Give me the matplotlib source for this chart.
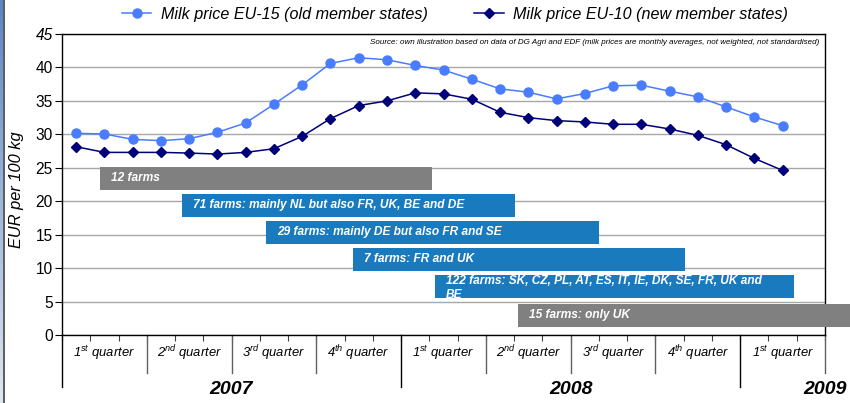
import numpy as np
import matplotlib
matplotlib.use('Agg')
import matplotlib.pyplot as plt
from matplotlib.lines import Line2D
from matplotlib.colors import LinearSegmentedColormap

plt.rcParams['font.family'] = ['Liberation Sans', 'DejaVu Sans']
plt.rcParams['mathtext.fontset'] = 'custom'
plt.rcParams['mathtext.rm'] = 'Liberation Sans'
plt.rcParams['mathtext.it'] = 'Liberation Sans:italic'
plt.rcParams['mathtext.bf'] = 'Liberation Sans:bold'

# --- DATA ---
# monthly milk prices, Jan 2007 .. Feb 2009 (EUR per 100 kg)
MONTHS = np.arange(26)
EU15_PRICE = [30.15, 30.05, 29.25, 29.05, 29.35, 30.3, 31.7, 34.5, 37.4, 40.6, 41.45, 41.15, 40.3,
              39.6, 38.25, 36.8, 36.3, 35.3, 36.1, 37.25, 37.35, 36.45, 35.6, 34.1, 32.6, 31.3]
EU10_PRICE = [28.15, 27.3, 27.3, 27.3, 27.2, 27.05, 27.3, 27.85, 29.7, 32.35, 34.3, 35.0, 36.2,
              36.05, 35.25, 33.3, 32.5, 32.05, 31.85, 31.5, 31.5, 30.8, 29.85, 28.45, 26.4, 24.6]
SERIES_LABELS = ['Milk price EU-15 (old member states)', 'Milk price EU-10 (new member states)']

QUARTER_LABELS = ['1$^{st}$ quarter', '2$^{nd}$ quarter', '3$^{rd}$ quarter', '4$^{th}$ quarter',
                  '1$^{st}$ quarter', '2$^{nd}$ quarter', '3$^{rd}$ quarter', '4$^{th}$ quarter',
                  '1$^{st}$ quarter']
YEARS = ['2007', '2008', '2009']

# farm groups and the period (in months from Jan 2007) each one covers
FARM_GROUPS = ['12 farms',
               '71 farms: mainly NL but also FR, UK, BE and DE',
               '29 farms: mainly DE but also FR and SE',
               '7 farms: FR and UK',
               '122 farms: SK, CZ, PL, AT, ES, IT, IE, DK, SE, FR, UK and\nBE',
               '15 farms: only UK']
GROUP_START = [0.84, 3.74, 6.71, 9.79, 12.69, 15.62]
GROUP_END = [12.61, 15.52, 18.49, 21.56, 25.42, 28.0]

SOURCE = ('Source: own illustration based on data of DG Agri and EDF '
          '(milk prices are monthly averages, not weighted, not standardised)')

# --- STYLE ---
C_EU15 = '#4a7cff'
C_EU10 = '#00007a'
C_GREY = '#808080'
C_BLUE = '#1a7abe'
lanes = [23.43, 19.39, 15.35, 11.32, 7.28, 2.94]
lane_h = 3.4
group_colors = [C_GREY, C_BLUE, C_BLUE, C_BLUE, C_BLUE, C_GREY]

fig = plt.figure(figsize=(8.5, 4.03), dpi=100)
ax = fig.add_axes([62 / 850, 68 / 403, 763 / 850, 301 / 403])

# slide border strip on the left
sax = fig.add_axes([0, 0, 3 / 850, 1])
grad = np.linspace(0, 1, 256).reshape(-1, 1)
cmap = LinearSegmentedColormap.from_list('strip', ['#5a86c6', '#dfe6f0'])
sax.imshow(grad, aspect='auto', cmap=cmap)
sax.axis('off')
fig.add_artist(Line2D([3.6 / 850] * 2, [0, 1], color='#404040', lw=1.2))

# price lines
ax.plot(MONTHS, EU15_PRICE, color=C_EU15, lw=1.1, marker='o', ms=6.5, label=SERIES_LABELS[0], zorder=5)
ax.plot(MONTHS, EU10_PRICE, color=C_EU10, lw=1.1, marker='D', ms=5, label=SERIES_LABELS[1], zorder=5)

# farm group bars
widths = np.array(GROUP_END) - np.array(GROUP_START)
bars = ax.barh(lanes, widths, left=GROUP_START, height=lane_h, color=group_colors, zorder=4)
for bar, txt, x0, y in zip(bars, FARM_GROUPS, GROUP_START, lanes):
    bar.set_clip_on(False)
    if '\n' in txt:
        t = ax.text(x0 + 0.4, y + lane_h / 2 + 0.05, txt, color='white', fontsize=8.6,
                    fontweight='bold', style='italic', va='top', ha='left', zorder=6,
                    linespacing=1.3)
        t.set_clip_path(bar)
    else:
        ax.text(x0 + 0.4, y, txt, color='white', fontsize=8.6, fontweight='bold',
                style='italic', va='center', ha='left', zorder=6)

# axes
ax.set_xlim(-0.5, 26.5)
ax.set_ylim(0, 45)
ax.set_yticks(range(0, 46, 5))
ax.tick_params(axis='y', labelsize=11.2, length=5, pad=1.5)
ax.get_yticklabels()[-1].set_style('italic')
ax.yaxis.grid(True, color='#a8a8a8', lw=1)
ax.set_axisbelow(True)
for s in ax.spines.values():
    s.set_color('black')
    s.set_linewidth(1)

ax.set_xticks(np.arange(-0.5, 27, 1))
ax.set_xticklabels([])
ax.tick_params(axis='x', length=4, direction='out', color='#404040')

xt = ax.get_xaxis_transform()
for b in np.arange(2.5, 27, 3):
    if b in (11.5, 23.5):
        continue
    ax.plot([b, b], [0, -0.126], transform=xt, color='#606060', lw=1, clip_on=False)
for b in (-0.5, 11.5, 23.5):
    ax.plot([b, b], [0, -0.173], transform=xt, color='black', lw=1, clip_on=False)

for i, q in enumerate(QUARTER_LABELS):
    ax.text(1 + 3 * i, -0.059, q, transform=xt, ha='center', va='center',
            fontsize=9.4, style='italic')
for x, yr in zip([5.5, 17.5, 26.5], YEARS):
    ax.text(x, -0.18, yr, transform=xt, ha='center', va='center', fontsize=14,
            fontweight='bold', style='italic')

ax.text(0.993, 0.983, SOURCE, transform=ax.transAxes, ha='right', va='top',
        fontsize=5.8, style='italic')

fig.text(17 / 850, 1 - 190 / 403, 'EUR per 100 kg', rotation=90, ha='center', va='center',
         fontsize=11.8, style='italic')

fig.legend(loc='center', bbox_to_anchor=(0.535, 0.965), ncol=2, frameon=False,
           prop={'size': 11.6, 'style': 'italic'}, handlelength=1.85, handletextpad=0.56,
           columnspacing=2.9)

fig.savefig('out.png', dpi=100)
